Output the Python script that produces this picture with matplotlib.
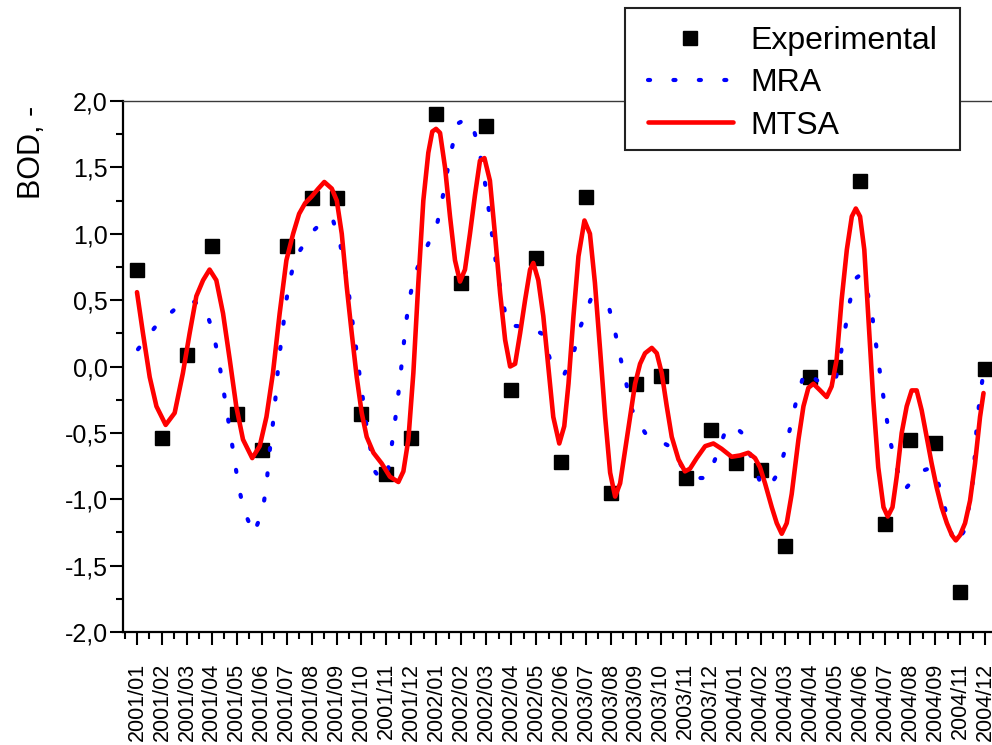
import matplotlib
matplotlib.use('Agg')
import matplotlib.pyplot as plt
from matplotlib.patches import Rectangle
from matplotlib.ticker import FixedLocator, MultipleLocator

plt.rcParams['font.family'] = ['Liberation Sans', 'DejaVu Sans']

# ---------------- data ----------------
months = ['2001/01', '2001/02', '2001/03', '2001/04', '2001/05', '2001/06',
          '2001/07', '2001/08', '2001/09', '2001/10', '2001/11', '2001/12',
          '2002/01', '2002/02', '2002/03', '2002/04', '2002/05', '2002/06',
          '2003/07', '2003/08', '2003/09', '2003/10', '2003/11', '2003/12',
          '2004/01', '2004/02', '2004/03', '2004/04', '2004/05', '2004/06',
          '2004/07', '2004/08', '2004/09', '2004/11', '2004/12']

experimental = [0.73, -0.54, 0.09, 0.91, -0.36, -0.63, 0.91, 1.27, 1.27,
                -0.36, -0.81, -0.54, 1.90, 0.63, 1.81, -0.18, 0.82, -0.72,
                1.28, -0.95, -0.13, -0.07, -0.84, -0.48, -0.73, -0.78, -1.35,
                -0.08, 0.00, 1.40, -1.19, -0.55, -0.58, -1.70, -0.02]

mra_x = [0.04, 0.78, 1.75, 2.25, 2.71, 3.05, 3.26, 3.42, 3.58, 3.74, 3.90,
         4.06, 4.28, 4.68, 5.03, 5.19, 5.28, 5.40, 5.51, 5.60, 5.69, 5.83,
         5.94, 6.10, 6.35, 7.00, 7.50, 7.83, 8.14, 8.34, 8.50, 8.63, 8.77,
         8.90, 9.04, 9.17, 9.34, 9.54, 9.80, 10.01, 10.18, 10.32, 10.44,
         10.56, 10.67, 10.77, 10.92, 11.12, 11.57, 12.03, 12.24, 12.42,
         12.62, 12.86, 13.15, 13.42, 13.71, 13.90, 14.05, 14.18, 14.32,
         14.46, 14.66, 14.86, 15.55, 16.22, 16.57, 17.13, 17.53, 17.80,
         18.20, 18.93, 19.18, 19.39, 19.62, 19.83, 20.37, 21.34, 21.97,
         22.50, 22.88, 23.28, 23.64, 23.95, 24.31, 24.65, 25.02, 25.35,
         25.74, 26.02, 26.25, 26.48, 26.79, 27.43, 28.01, 28.21, 28.39,
         28.56, 28.79, 29.00, 29.25, 29.46, 29.59, 29.74, 29.88, 30.03,
         30.19, 30.39, 30.77, 31.41, 31.90, 32.27, 32.49, 32.78, 33.20,
         33.37, 33.53, 33.60, 33.66, 33.77, 33.91]
mra_y = [0.13, 0.31, 0.47, 0.49, 0.45, 0.26, 0.07, -0.12, -0.31, -0.50, -0.69,
         -0.89, -1.08, -1.26, -1.09, -0.90, -0.70, -0.51, -0.33, -0.13, 0.06,
         0.25, 0.44, 0.63, 0.82, 1.01, 1.10, 1.12, 0.93, 0.73, 0.54, 0.35,
         0.16, -0.03, -0.22, -0.41, -0.60, -0.79, -0.86, -0.84, -0.64, -0.45,
         -0.27, -0.07, 0.12, 0.31, 0.50, 0.69, 0.88, 1.07, 1.26, 1.45, 1.64,
         1.83, 1.86, 1.84, 1.64, 1.45, 1.26, 1.07, 0.88, 0.69, 0.50, 0.31,
         0.30, 0.25, 0.05, -0.06, 0.12, 0.31, 0.51, 0.44, 0.25, 0.06, -0.13,
         -0.32, -0.50, -0.60, -0.79, -0.84, -0.84, -0.65, -0.46, -0.45, -0.51,
         -0.70, -0.89, -0.91, -0.79, -0.60, -0.41, -0.22, -0.03, -0.13, -0.10,
         0.09, 0.28, 0.47, 0.66, 0.69, 0.59, 0.41, 0.22, 0.02, -0.17, -0.36,
         -0.55, -0.73, -0.93, -0.79, -0.76, -0.96, -1.15, -1.34, -1.23, -1.04,
         -0.84, -0.65, -0.47, -0.27, -0.08]

mtsa_x = [0.00, 0.24, 0.51, 0.78, 1.15, 1.51, 1.84, 2.11, 2.38, 2.65, 2.91,
          3.18, 3.45, 3.72, 3.98, 4.25, 4.62, 4.92, 5.19, 5.45, 5.72, 5.99,
          6.26, 6.50, 6.74, 7.00, 7.27, 7.51, 7.81, 8.01, 8.21, 8.41, 8.61,
          8.81, 9.01, 9.21, 9.48, 9.81, 10.14, 10.48, 10.68, 10.88, 11.08,
          11.28, 11.48, 11.68, 11.84, 11.99, 12.15, 12.35, 12.55, 12.75,
          12.95, 13.15, 13.35, 13.55, 13.75, 13.93, 14.15, 14.35, 14.56,
          14.76, 14.96, 15.16, 15.36, 15.56, 15.76, 15.89, 16.09, 16.29,
          16.49, 16.69, 16.93, 17.13, 17.30, 17.50, 17.70, 17.94, 18.16,
          18.36, 18.57, 18.77, 18.97, 19.17, 19.37, 19.57, 19.77, 19.97,
          20.17, 20.37, 20.64, 20.84, 21.04, 21.24, 21.44, 21.71, 21.97,
          22.17, 22.44, 22.78, 23.11, 23.44, 23.84, 24.18, 24.51, 24.78,
          24.98, 25.18, 25.45, 25.65, 25.85, 26.05, 26.25, 26.52, 26.72,
          26.92, 27.12, 27.39, 27.65, 27.85, 28.05, 28.25, 28.46, 28.66,
          28.82, 28.99, 29.16, 29.32, 29.52, 29.72, 29.93, 30.10, 30.29,
          30.46, 30.66, 30.86, 31.06, 31.26, 31.46, 31.66, 31.86, 32.06,
          32.26, 32.47, 32.67, 32.83, 33.00, 33.20, 33.40, 33.60, 33.80,
          33.94]
mtsa_y = [0.56, 0.25, -0.08, -0.30, -0.44, -0.35, -0.05, 0.25, 0.53, 0.65,
          0.73, 0.65, 0.40, 0.05, -0.30, -0.55, -0.69, -0.60, -0.38, -0.05,
          0.40, 0.80, 1.00, 1.15, 1.23, 1.28, 1.34, 1.39, 1.34, 1.25, 1.00,
          0.60, 0.25, -0.08, -0.35, -0.53, -0.65, -0.73, -0.83, -0.87, -0.79,
          -0.55, -0.05, 0.63, 1.25, 1.61, 1.77, 1.79, 1.76, 1.50, 1.13, 0.80,
          0.64, 0.73, 1.00, 1.29, 1.55, 1.57, 1.40, 1.00, 0.55, 0.20, 0.00,
          0.02, 0.25, 0.50, 0.73, 0.78, 0.65, 0.38, 0.00, -0.38, -0.58, -0.45,
          -0.13, 0.38, 0.83, 1.10, 1.00, 0.63, 0.12, -0.38, -0.80, -0.98,
          -0.88, -0.63, -0.38, -0.13, 0.02, 0.10, 0.14, 0.10, -0.05, -0.30,
          -0.53, -0.70, -0.79, -0.77, -0.69, -0.60, -0.58, -0.62, -0.68, -0.67,
          -0.65, -0.69, -0.76, -0.88, -1.06, -1.18, -1.26, -1.18, -0.96, -0.55,
          -0.30, -0.16, -0.13, -0.18, -0.23, -0.15, 0.05, 0.50, 0.88, 1.13,
          1.19, 1.13, 0.88, 0.38, -0.25, -0.76, -1.06, -1.13, -1.06, -0.83,
          -0.50, -0.30, -0.18, -0.18, -0.33, -0.53, -0.73, -0.91, -1.06, -1.18,
          -1.27, -1.31, -1.27, -1.18, -1.01, -0.73, -0.38, -0.20]

y_ticks = [-2.0, -1.5, -1.0, -0.5, 0.0, 0.5, 1.0, 1.5, 2.0]
y_tick_labels = ['-2,0', '-1,5', '-1,0', '-0,5', '0,0', '0,5', '1,0', '1,5', '2,0']

# ---------------- figure ----------------
W, H = 992, 745
fig = plt.figure(figsize=(W / 100, H / 100), dpi=100)
ax = fig.add_axes([123 / W, (H - 632) / H, (W - 123) / W, 531 / H])

xpos = list(range(len(months)))
ax.plot(xpos, experimental, linestyle='none', marker='s', color='black',
        markersize=9.4, label='Experimental', zorder=3)
ax.plot(mra_x, mra_y, color='blue', linewidth=3.0, dashes=(0.5, 5.6),
        dash_capstyle='round', label='MRA', zorder=4)
ax.plot(mtsa_x, mtsa_y, color='red', linewidth=3.3, solid_joinstyle='round',
        solid_capstyle='round', label='MTSA', zorder=5)

ax.set_xlim(-0.561, 34.28)
ax.set_ylim(-2.0, 2.0)

ax.xaxis.set_major_locator(FixedLocator(xpos))
ax.set_xticklabels(months, rotation=90, fontsize=15.5)
ax.xaxis.set_minor_locator(MultipleLocator(0.5))
ax.yaxis.set_major_locator(FixedLocator(y_ticks))
ax.set_yticklabels(y_tick_labels, fontsize=18)
ax.yaxis.set_minor_locator(MultipleLocator(0.25))

ax.tick_params(axis='both', which='major', direction='out', length=9.4,
               width=1.5, color='black')
ax.tick_params(axis='both', which='minor', direction='out', length=5,
               width=1.5, color='black')
ax.tick_params(axis='x', which='major', pad=13)
ax.tick_params(axis='y', which='major', pad=1.5)
ax.tick_params(top=False, right=False, which='both')

for s in ['left', 'bottom']:
    ax.spines[s].set_linewidth(1.6)
    ax.spines[s].set_color('black')
ax.spines['right'].set_visible(False)
ax.spines['top'].set_linewidth(1.0)
ax.spines['top'].set_color('#3a3a3a')

ax.set_ylabel('BOD, -', fontsize=22)
ax.yaxis.set_label_coords((47 - 123) / (W - 123), (632 - 152) / 531)

# legend frame (white box over the top spine)
frame = Rectangle((625 / W, 1 - 150 / H), 335 / W, 142 / H,
                  transform=fig.transFigure, facecolor='white',
                  edgecolor='#222222', linewidth=1.5, zorder=4.8,
                  clip_on=False)
ax.add_artist(frame)

leg = ax.legend(loc='upper left', bbox_to_anchor=(648 / W, 1 - 26 / H),
                bbox_transform=fig.transFigure, borderaxespad=0,
                borderpad=0, fontsize=23, frameon=False, numpoints=1,
                handlelength=2.66, handletextpad=0.53, labelspacing=0.385)
leg.set_zorder(6)

fig.savefig('out.png', dpi=100)
